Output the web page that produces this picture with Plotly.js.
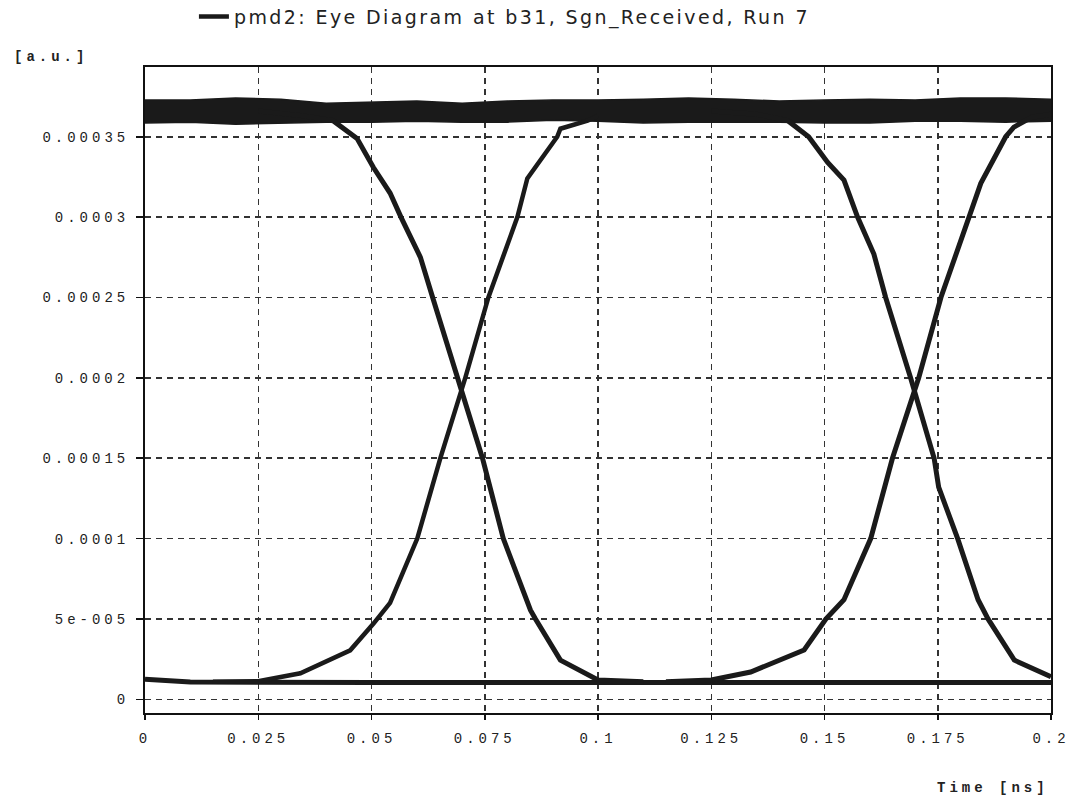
<!DOCTYPE html>
<html>
<head>
<meta charset="utf-8">
<script src="https://cdn.plot.ly/plotly-3.0.1.min.js"></script>
<style>
  html, body { margin: 0; padding: 0; background: #fff; }
  #chart { width: 1075px; height: 799px; }
  .xtick text, .ytick text { letter-spacing: 4px; }
  .annotation-text { letter-spacing: 4px; }
  .legendtext { letter-spacing: 2.4px; }
</style>
</head>
<body>
<div id="chart"></div>
<script>
// ---- Data (time in ns, signal in a.u.) ----
const chartTitle = "pmd2: Eye Diagram at b31, Sgn_Received, Run 7";

// Upper ("1") level band: top and bottom envelope of the overlapping traces
const highTime   = [0, 0.01, 0.02, 0.03, 0.04, 0.05, 0.06, 0.07, 0.08, 0.09, 0.1,
                    0.11, 0.12, 0.13, 0.14, 0.15, 0.16, 0.17, 0.18, 0.19, 0.2];
const highTop    = [0.0003728, 0.0003728, 0.0003741, 0.0003734, 0.0003709, 0.0003716, 0.0003722,
                    0.0003709, 0.0003722, 0.0003728, 0.0003728, 0.0003734, 0.0003741, 0.0003734,
                    0.0003722, 0.0003728, 0.0003734, 0.0003728, 0.0003741, 0.0003741, 0.0003734];
const highBottom = [0.0003585, 0.0003591, 0.0003578, 0.0003585, 0.0003591, 0.0003591, 0.0003597,
                    0.0003591, 0.0003591, 0.0003603, 0.0003597, 0.0003585, 0.0003591, 0.0003591,
                    0.0003591, 0.0003585, 0.0003585, 0.0003597, 0.0003597, 0.0003591, 0.0003597];

// Lower ("0") level
const lowTime  = [0, 0.005, 0.01, 0.05, 0.1, 0.15, 0.2];
const lowValue = [0.0000125, 0.0000115, 0.0000108, 0.0000105, 0.0000105, 0.0000105, 0.0000105];

// First bit period: falling and rising edges
const fall1Time  = [0.025, 0.035, 0.0415, 0.0468, 0.0504, 0.0541, 0.0565, 0.0608, 0.0635, 0.069,
                    0.0745, 0.0791, 0.0851, 0.0862, 0.0917, 0.1, 0.11];
const fall1Value = [0.000366, 0.000363, 0.000360, 0.000349, 0.000331, 0.000315, 0.000300, 0.000275,
                    0.000250, 0.000200, 0.000150, 0.000100, 0.0000555, 0.000050, 0.0000244,
                    0.000012, 0.000011];
const rise1Time  = [0.015, 0.025, 0.0343, 0.0453, 0.0504, 0.0541, 0.0601, 0.0652, 0.0707, 0.0758,
                    0.0822, 0.0844, 0.091, 0.0917, 0.0977, 0.1];
const rise1Value = [0.000011, 0.0000112, 0.0000162, 0.0000305, 0.000047, 0.000060, 0.000100,
                    0.000150, 0.000200, 0.000250, 0.000300, 0.000324, 0.000350, 0.000355,
                    0.000360, 0.000363];

// Second bit period: falling and rising edges
const fall2Time  = [0.125, 0.135, 0.1419, 0.1465, 0.1507, 0.1543, 0.1573, 0.1609, 0.1635, 0.169,
                    0.1742, 0.1752, 0.1794, 0.1839, 0.1861, 0.1919, 0.2];
const fall2Value = [0.000366, 0.000364, 0.000360, 0.000350, 0.000334, 0.000323, 0.000300, 0.000277,
                    0.000250, 0.000200, 0.000150, 0.000132, 0.000100, 0.000062, 0.000050,
                    0.0000244, 0.000014];
const rise2Time  = [0.115, 0.125, 0.1337, 0.1455, 0.1503, 0.1543, 0.1602, 0.165, 0.1708, 0.1757,
                    0.1819, 0.1845, 0.190, 0.1918, 0.1956, 0.2];
const rise2Value = [0.000011, 0.000012, 0.000017, 0.0000307, 0.000050, 0.000062, 0.000100,
                    0.000150, 0.000200, 0.000250, 0.000300, 0.000321, 0.000350, 0.000356,
                    0.000362, 0.000364];

// Axis ticks
const xTickVals  = [0, 0.025, 0.05, 0.075, 0.1, 0.125, 0.15, 0.175, 0.2];
const xTickText  = ["0", "0.025", "0.05", "0.075", "0.1", "0.125", "0.15", "0.175", "0.2"];
const yTickVals  = [0, 0.00005, 0.0001, 0.00015, 0.0002, 0.00025, 0.0003, 0.00035];
const yTickText  = ["0", "5e-005", "0.0001", "0.00015", "0.0002", "0.00025", "0.0003", "0.00035"];

// ---- Traces ----
const ink = "#1a1a1a";
function edge(x, y, w, show) {
  return { x: x, y: y, type: "scatter", mode: "lines",
           line: { color: ink, width: w }, name: chartTitle,
           showlegend: !!show, hoverinfo: "skip" };
}
const traces = [
  { x: highTime, y: highBottom, type: "scatter", mode: "lines",
    line: { color: ink, width: 1.5 }, showlegend: false, hoverinfo: "skip" },
  { x: highTime, y: highTop, type: "scatter", mode: "lines", fill: "tonexty",
    fillcolor: ink, line: { color: ink, width: 1.5 }, showlegend: false, hoverinfo: "skip" },
  edge(lowTime, lowValue, 5, false),
  edge(fall1Time, fall1Value, 5, false),
  edge(rise1Time, rise1Value, 4.5, true),
  edge(fall2Time, fall2Value, 5, false),
  edge(rise2Time, rise2Value, 5, false)
];

const monoFont = { family: "Liberation Mono, DejaVu Sans Mono, monospace", size: 14, color: "#222" };

const layout = {
  width: 1075, height: 799,
  margin: { l: 145, r: 24, t: 67, b: 86, pad: 0, autoexpand: false },
  paper_bgcolor: "#ffffff", plot_bgcolor: "#ffffff",
  showlegend: true,
  legend: {
    x: 0.054, xanchor: "left", y: 1.078, yanchor: "middle",
    bgcolor: "rgba(0,0,0,0)", borderwidth: 0,
    font: { family: "DejaVu Sans, Verdana, sans-serif", size: 19, color: "#222" }
  },
  xaxis: {
    range: [0, 0.2], tickmode: "array", tickvals: xTickVals, ticktext: xTickText,
    showgrid: true, gridcolor: "#333", gridwidth: 1.5, griddash: "6px,5px",
    zeroline: false, showline: true, linecolor: "#111", linewidth: 2, mirror: true,
    ticks: "outside", ticklen: 5, tickwidth: 1.5, tickcolor: "#111",
    tickfont: monoFont, ticklabelstandoff: 6, fixedrange: true
  },
  yaxis: {
    range: [-0.0000085, 0.0003934], tickmode: "array", tickvals: yTickVals, ticktext: yTickText,
    showgrid: true, gridcolor: "#333", gridwidth: 1.5, griddash: "6px,5px",
    zeroline: false, showline: true, linecolor: "#111", linewidth: 2, mirror: true,
    ticks: "outside", ticklen: 7, tickwidth: 1.5, tickcolor: "#111",
    tickfont: monoFont, ticklabelstandoff: 4, fixedrange: true
  },
  annotations: [
    { text: "[a.u.]", xref: "paper", yref: "paper", x: -0.147, y: 1.0155,
      xanchor: "left", yanchor: "middle", showarrow: false,
      font: { family: "Liberation Mono, DejaVu Sans Mono, monospace", size: 14, color: "#222", weight: "bold" } },
    { text: "Time [ns]", xref: "paper", yref: "paper", x: 1.0, y: -0.116,
      xanchor: "right", yanchor: "middle", showarrow: false,
      font: { family: "Liberation Mono, DejaVu Sans Mono, monospace", size: 14, color: "#222", weight: "bold" } }
  ]
};

Plotly.newPlot("chart", traces, layout, { displayModeBar: false, staticPlot: true });
</script>
</body>
</html>
